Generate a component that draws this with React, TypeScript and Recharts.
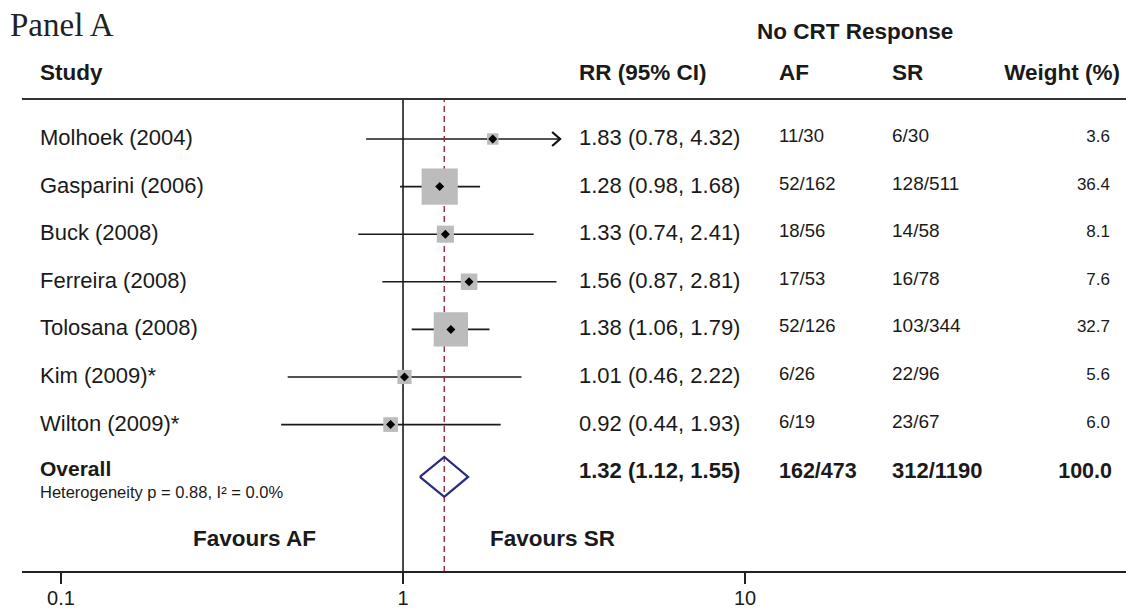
import React from "react";
import { ComposedChart, Scatter, XAxis, YAxis, ReferenceLine, ReferenceDot } from "recharts";

// study rows
const studies = [
  "Molhoek (2004)",
  "Gasparini (2006)",
  "Buck (2008)",
  "Ferreira (2008)",
  "Tolosana (2008)",
  "Kim (2009)*",
  "Wilton (2009)*",
];
const rr = [1.83, 1.28, 1.33, 1.56, 1.38, 1.01, 0.92];
const ciLow = [0.78, 0.98, 0.74, 0.87, 1.06, 0.46, 0.44];
const ciHigh = [4.32, 1.68, 2.41, 2.81, 1.79, 2.22, 1.93];
const afEvents = ["11/30", "52/162", "18/56", "17/53", "52/126", "6/26", "6/19"];
const srEvents = ["6/30", "128/511", "14/58", "16/78", "103/344", "22/96", "23/67"];
const weights = [3.6, 36.4, 8.1, 7.6, 32.7, 5.6, 6.0];

// pooled estimate
const overallRR = 1.32;
const overallLow = 1.12;
const overallHigh = 1.55;
const overallAF = "162/473";
const overallSR = "312/1190";
const overallWeight = 100.0;
const heterogeneity = "Heterogeneity p = 0.88, I\u00b2 = 0.0%";

const xTicks = [0.1, 1, 10];

const W = 1126;
const H = 610;
const FONT = "'Liberation Sans', Arial, Helvetica, sans-serif";
const INK = "#1a1a1a";
const CLIP_MAX = 2.88; // plot display limit for CIs
const OVERALL_ROW = studies.length;
const DIAMOND_Y = OVERALL_ROW + 0.1;
const DIAMOND_HALF = 0.42;

const fmt = (v: number) => v.toFixed(2);

const squares = studies.map((s, i) => ({ x: rr[i], y: i, w: weights[i] }));
const diamond = [
  { x: overallLow, y: DIAMOND_Y },
  { x: overallRR, y: DIAMOND_Y - DIAMOND_HALF },
  { x: overallHigh, y: DIAMOND_Y },
  { x: overallRR, y: DIAMOND_Y + DIAMOND_HALF },
  { x: overallLow, y: DIAMOND_Y },
];

function Square(props: any) {
  const { cx, cy, payload } = props;
  const s = 6 * Math.sqrt(payload.w);
  return (
    <g>
      <rect x={cx - s / 2} y={cy - s / 2} width={s} height={s} fill="#bcbcbc" />
      <path d={`M${cx - 4.5},${cy} L${cx},${cy - 4.5} L${cx + 4.5},${cy} L${cx},${cy + 4.5} Z`} fill="#000" />
    </g>
  );
}

function Arrow(props: any) {
  const { cx, cy } = props;
  return (
    <path
      d={`M${cx - 8},${cy - 7} L${cx},${cy} L${cx - 8},${cy + 7}`}
      stroke="#111"
      strokeWidth={2.2}
      fill="none"
    />
  );
}

function renderRow(props: any) {
  const { y, payload } = props;
  const i = payload.value as number;
  const base = y + 6;
  if (i < studies.length) {
    return (
      <g fontFamily={FONT} fill={INK}>
        <text x={40} y={base} fontSize={22}>{studies[i]}</text>
        <text x={579} y={base} fontSize={22}>
          {`${fmt(rr[i])} (${fmt(ciLow[i])}, ${fmt(ciHigh[i])})`}
        </text>
        <text x={779} y={base - 3} fontSize={18.5}>{afEvents[i]}</text>
        <text x={892} y={base - 3} fontSize={19}>{srEvents[i]}</text>
        <text x={1110} y={base - 3} fontSize={17} textAnchor="end">{weights[i].toFixed(1)}</text>
      </g>
    );
  }
  return (
    <g fontFamily={FONT} fill={INK} fontWeight="bold">
      <text x={40} y={base - 2} fontSize={21}>Overall</text>
      <text x={40} y={base + 20} fontSize={16.5} fontWeight="normal">
        {heterogeneity}
      </text>
      <text x={579} y={base} fontSize={22}>
        {`${fmt(overallRR)} (${fmt(overallLow)}, ${fmt(overallHigh)})`}
      </text>
      <text x={779} y={base} fontSize={21.5}>{overallAF}</text>
      <text x={892} y={base} fontSize={22}>{overallSR}</text>
      <text x={1112} y={base} fontSize={21.5} textAnchor="end">{overallWeight.toFixed(1)}</text>
    </g>
  );
}

function renderXTick(props: any) {
  const { x, y, payload } = props;
  return (
    <text x={x} y={y + 19} textAnchor="middle" fontSize={20} fontFamily={FONT} fill={INK}>
      {String(payload.value)}
    </text>
  );
}

export default function App() {
  const rows = [...studies.map((_, i) => i), OVERALL_ROW];
  return (
    <div style={{ position: "absolute", left: 0, top: 0, width: W, height: H, background: "#fff" }}>
      <div style={{ position: "absolute", left: 0, top: 0 }}>
        <ComposedChart width={W} height={H} margin={{ top: 99, right: 0, bottom: 0, left: 0 }}>
          <XAxis
            type="number"
            dataKey="x"
            scale="log"
            domain={[0.0769, 130]}
            allowDataOverflow
            ticks={xTicks}
            height={38}
            tickSize={12}
            axisLine={{ stroke: "#222", strokeWidth: 2 }}
            tickLine={{ stroke: "#222", strokeWidth: 2 }}
            tick={renderXTick}
            interval={0}
          />
          <YAxis
            type="number"
            dataKey="y"
            domain={[-0.84, 9.097]}
            reversed
            allowDataOverflow
            width={22}
            ticks={rows}
            interval={0}
            axisLine={false}
            tickLine={false}
            tick={renderRow}
          />
          <Scatter data={squares} shape={<Square />} isAnimationActive={false} />
          {studies.map((s, i) => (
            <ReferenceLine
              key={s}
              segment={[
                { x: ciLow[i], y: i },
                { x: Math.min(ciHigh[i], CLIP_MAX), y: i },
              ]}
              stroke="#1a1a1a"
              strokeWidth={1.6}
            />
          ))}
          {studies.map((s, i) =>
            ciHigh[i] > CLIP_MAX ? (
              <ReferenceDot key={"a" + s} x={CLIP_MAX} y={i} shape={<Arrow />} />
            ) : null
          )}
          <ReferenceLine x={1} stroke="#1a1a1a" strokeWidth={1.6} />
          <ReferenceLine x={overallRR} stroke="#9e2a3c" strokeWidth={1.4} strokeDasharray="6 4" />
          <Scatter
            data={diamond}
            line={{ stroke: "#2a2a7e", strokeWidth: 2.2 }}
            lineType="joint"
            shape={() => <g />}
            isAnimationActive={false}
          />
        </ComposedChart>
      </div>
      <svg
        width={W}
        height={H}
        style={{ position: "absolute", left: 0, top: 0, pointerEvents: "none" }}
      >
        <text x={10} y={36} fontSize={33} fontFamily="'Liberation Serif', 'Times New Roman', serif" fill="#222">
          Panel A
        </text>
        <g fontFamily={FONT} fontWeight="bold" fill={INK} fontSize={22.5}>
          <text x={757} y={39}>No CRT Response</text>
          <text x={40} y={80}>Study</text>
          <text x={579} y={80}>RR (95% CI)</text>
          <text x={779} y={80}>AF</text>
          <text x={892} y={80}>SR</text>
          <text x={1120} y={80} textAnchor="end">Weight (%)</text>
          <text x={193} y={546}>Favours AF</text>
          <text x={490} y={546}>Favours SR</text>
        </g>
        <line x1={22} x2={W} y1={99} y2={99} stroke="#333" strokeWidth={2.2} />
      </svg>
    </div>
  );
}
